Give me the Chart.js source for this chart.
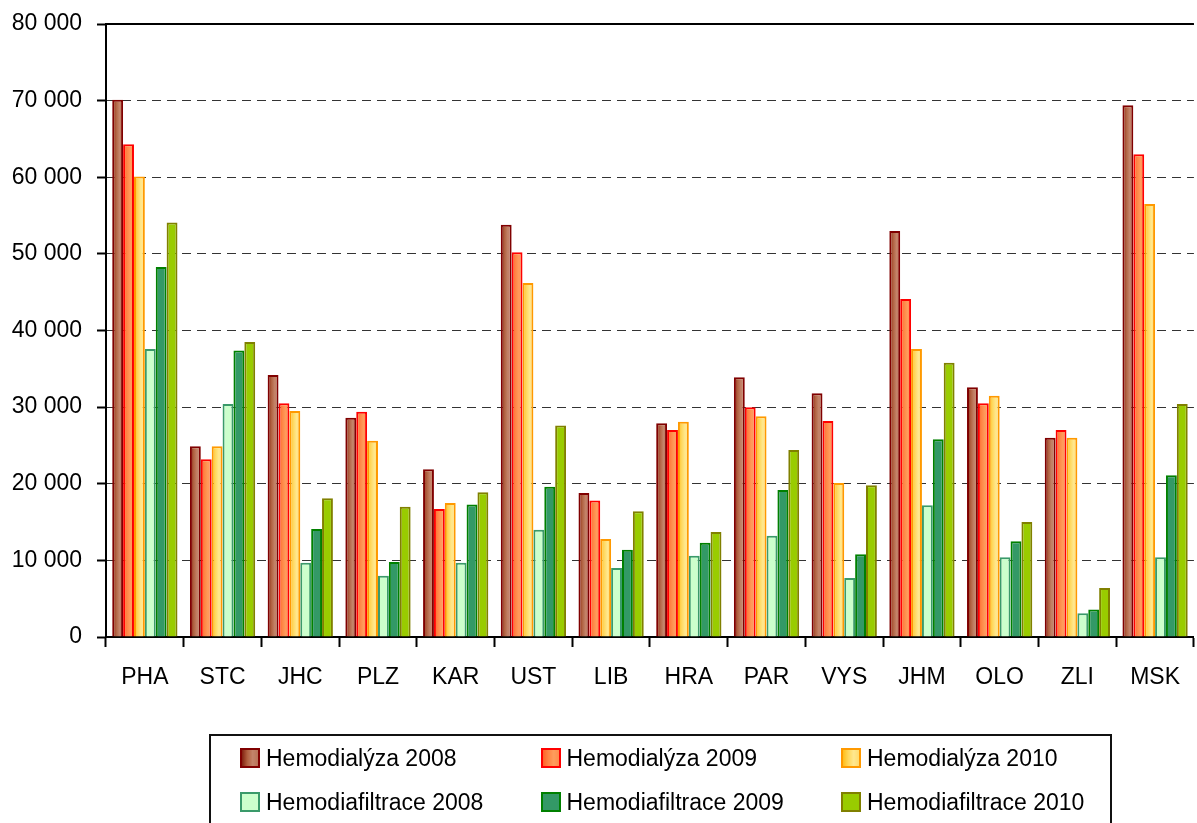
<!DOCTYPE html>
<html>
<head>
<meta charset="utf-8">
<script src="https://cdn.jsdelivr.net/npm/chart.js@4"></script>
<style>
  html, body { margin: 0; padding: 0; background: #fff; }
  #wrap { position: relative; width: 1197px; height: 823px; overflow: hidden; }
  #legend {
    position: absolute; left: 209px; top: 734px; width: 899px; height: 120px;
    border: 2px solid #111; box-sizing: content-box;
    font-family: "Liberation Sans", Arial, sans-serif; font-size: 23px; color: #000;
  }
  .item { position: absolute; height: 44px; display: flex; align-items: center; white-space: nowrap; }
  .sw { width: 16px; height: 16px; border: 2px solid; margin-right: 6px; }
</style>
</head>
<body>
<div id="wrap">
  <canvas id="chart" width="1197" height="823"></canvas>
  <div id="legend"></div>
</div>
<script>
// regions
const regions = ['PHA', 'STC', 'JHC', 'PLZ', 'KAR', 'UST', 'LIB', 'HRA', 'PAR', 'VYS', 'JHM', 'OLO', 'ZLI', 'MSK'];

// Hemodialýza
const hd2008 = [70100, 24900, 34200, 28600, 21900, 53800, 18800, 27900, 33900, 31800, 53000, 32600, 26000, 69400];
const hd2009 = [64300, 23200, 30500, 29400, 16700, 50200, 17800, 27000, 30000, 28200, 44100, 30500, 27000, 63000];
const hd2010 = [60100, 24900, 29500, 25600, 17500, 46200, 12800, 28100, 28800, 20100, 37600, 31500, 26000, 56500];

// Hemodiafiltrace
const hdf2008 = [37600, 30400, 9700, 8000, 9700, 14000, 9000, 10600, 13200, 7700, 17200, 10400, 3100, 10400];
const hdf2009 = [48300, 37400, 14100, 9800, 17300, 19600, 11400, 12300, 19200, 10800, 25800, 12500, 3600, 21100];
const hdf2010 = [54100, 38500, 18100, 17000, 18900, 27600, 16400, 13700, 24400, 19800, 35800, 15000, 6400, 30400];

const yTicks = [0, 10000, 20000, 30000, 40000, 50000, 60000, 70000, 80000];

const FONT = '"Liberation Sans", Arial, sans-serif';

const series = [
  { label: 'Hemodialýza 2008', data: hd2008, border: '#800000', fill: ['#82200f', '#b0603f', '#c4846a', '#b87358'] },
  { label: 'Hemodialýza 2009', data: hd2009, border: '#ff0000', fill: ['#ff6228', '#ff8444', '#ff9c5c', '#ff8c4c'] },
  { label: 'Hemodialýza 2010', data: hd2010, border: '#ff9900', fill: ['#ffbe1a', '#ffd75c', '#ffe88f', '#ffdc70'] },
  { label: 'Hemodiafiltrace 2008', data: hdf2008, border: '#3a9a6a', fill: ['#ccffcc'] },
  { label: 'Hemodiafiltrace 2009', data: hdf2009, border: '#008000', fill: ['#339966'] },
  { label: 'Hemodiafiltrace 2010', data: hdf2010, border: '#808000', fill: ['#99cc00'] }
];

function barFill(stops) {
  return function(c) {
    const el = c.element;
    if (stops.length < 2 || !el || !el.width) return stops[stops.length > 1 ? 2 : 0];
    const g = c.chart.ctx.createLinearGradient(el.x - el.width / 2, 0, el.x + el.width / 2, 0);
    stops.forEach((s, i) => g.addColorStop(i / (stops.length - 1), s));
    return g;
  };
}

// solid frame line along the top of the plot area
const topLine = {
  id: 'topLine',
  afterDraw(chart) {
    const { ctx, chartArea } = chart;
    ctx.save();
    ctx.strokeStyle = '#000';
    ctx.lineWidth = 2;
    ctx.beginPath();
    ctx.moveTo(chartArea.left, chartArea.top);
    ctx.lineTo(chartArea.right, chartArea.top);
    ctx.stroke();
    ctx.restore();
  }
};

const chart = new Chart(document.getElementById('chart'), {
  type: 'bar',
  data: {
    labels: regions,
    datasets: series.map(s => ({
      label: s.label,
      data: s.data,
      backgroundColor: barFill(s.fill),
      borderColor: s.border,
      borderWidth: 2,
      categoryPercentage: 0.84,
      barPercentage: 1.0
    }))
  },
  options: {
    responsive: false,
    animation: false,
    layout: { padding: { top: 0, right: 0, bottom: 126, left: 0 } },
    plugins: { legend: { display: false }, tooltip: { enabled: false } },
    scales: {
      x: {
        grid: { drawOnChartArea: false, tickLength: 10, tickColor: '#000', tickWidth: 2 },
        border: { color: '#000', width: 2 },
        ticks: { color: '#000', font: { family: FONT, size: 23 }, padding: 17, maxRotation: 0 },
        afterFit(scale) { scale.height = 60; }
      },
      y: {
        min: 0,
        max: 80000,
        afterBuildTicks(scale) { scale.ticks = yTicks.map(v => ({ value: v })); },
        grid: {
          color: '#333',
          lineWidth: 1,
          tickLength: 9,
          tickColor: '#000',
          tickWidth: 2
        },
        border: {
          color: '#000',
          width: 2,
          dash: c => (c.tick ? [9, 6] : [])
        },
        ticks: {
          color: '#000',
          font: { family: FONT, size: 23 },
          padding: 15,
          callback: v => String(v).replace(/\B(?=(\d{3})+(?!\d))/g, ' ')
        },
        afterFit(scale) {
          scale.width = 106;
          scale.paddingTop = 24;
          scale.paddingBottom = 0;
        }
      }
    }
  },
  plugins: [topLine]
});
// second pass so the gradients can use the bar geometry
chart.update();

// legend
const legend = document.getElementById('legend');
series.forEach((s, i) => {
  const item = document.createElement('div');
  item.className = 'item';
  item.style.left = (29 + (i % 3) * 300.5) + 'px';
  item.style.top = (Math.floor(i / 3) * 44) + 'px';
  const sw = document.createElement('span');
  sw.className = 'sw';
  sw.style.borderColor = s.border;
  sw.style.background = s.fill.length > 1 ? 'linear-gradient(to right, ' + s.fill.join(', ') + ')' : s.fill[0];
  const txt = document.createElement('span');
  txt.textContent = s.label;
  item.appendChild(sw);
  item.appendChild(txt);
  legend.appendChild(item);
});
</script>
</body>
</html>
